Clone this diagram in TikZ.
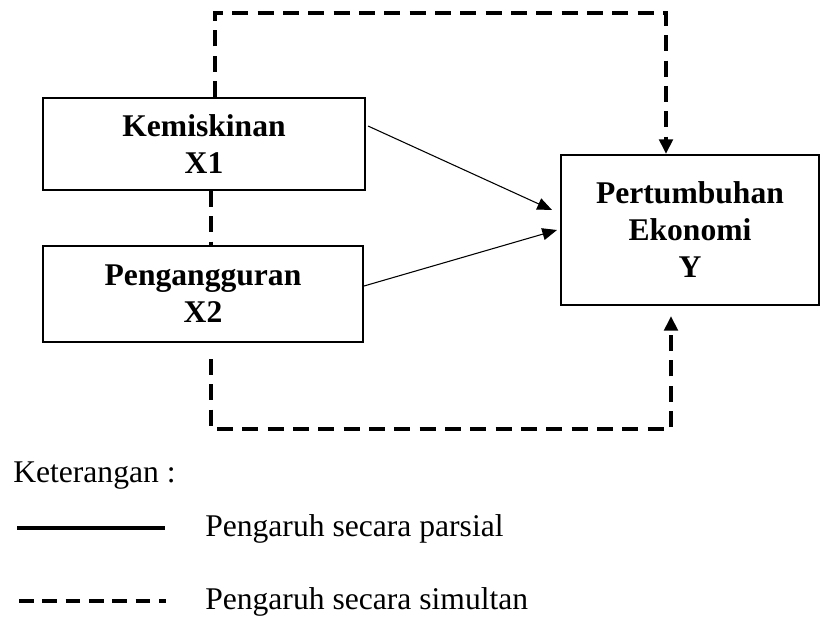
\documentclass[tikz,border=0pt]{standalone}
\usepackage{fontspec}
\setmainfont{Liberation Serif}
\usetikzlibrary{arrows.meta,calc}
\begin{document}
\begin{tikzpicture}[x=0.75pt,y=-0.75pt,
  box/.style={draw,line width=1.5pt,align=center,inner sep=0pt,
    font=\fontsize{23.7pt}{27.75pt}\selectfont\bfseries},
  simul/.style={line width=3pt,dash pattern=on 12pt off 7pt},
  parsial/.style={line width=0.8pt,-{Triangle[length=11pt,width=9pt]}},
  simarrow/.style={simul,-{Triangle[length=11pt,width=10pt]}},
  legtext/.style={anchor=base west,inner sep=0pt,font=\fontsize{23.7pt}{27.75pt}\selectfont}]
\useasboundingbox[fill=white] (0,0) rectangle (821,617);

\node[box,minimum width=322*0.75pt,minimum height=92*0.75pt] (X1) at (204,144) {Kemiskinan\\X1};
\node[box,minimum width=320*0.75pt,minimum height=96*0.75pt] (X2) at (203,294) {Pengangguran\\X2};
\node[box,minimum width=258*0.75pt,minimum height=150*0.75pt] (Y) at (690,230) {Pertumbuhan\\Ekonomi\\Y};

% partial arrows
\draw[parsial] ($(X1.east)+(2,-18)$) -- ($(Y.west)+(-8,-20)$);
\draw[parsial] ($(X2.east)+(0,-8)$) -- ($(Y.west)+(-3,0)$);

% simultaneous
\coordinate (tl) at ($(X1.north)+(11,-84)$);
\draw[simarrow] ($(X1.north)+(11,0)$) -- (tl) -| ($(Y.north)+(-24,0)$);
\draw[simul] ($(X1.south)+(7,0)$) -- ($(X2.north)+(8,0)$);
\coordinate (bl) at ($(X2.south)+(8,86)$);
\draw[simarrow] ($(X2.south)+(8,16)$) -- (bl) -| ($(Y.south)+(-19,10)$);

% legend
\node[legtext] (ket) at (13,482) {Keterangan :};
\coordinate (s1) at (17,528);
\coordinate (s2) at (165,528);
\draw[line width=3pt] (s1) -- (s2);
\node[legtext] (lp) at (205,536) {Pengaruh secara parsial};
\coordinate (d1) at (19,601);
\coordinate (d2) at (166,601);
\draw[line width=3pt,dash pattern=on 11pt off 6.5pt] (d1) -- (d2);
\node[legtext] (ls) at (205,609) {Pengaruh secara simultan};
\end{tikzpicture}
\end{document}
